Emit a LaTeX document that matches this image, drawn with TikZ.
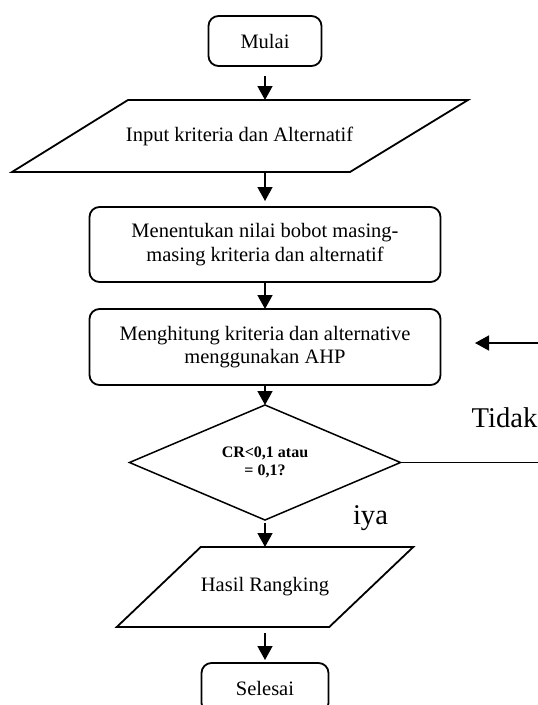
\documentclass[tikz,border=0pt]{standalone}
\usepackage{fontspec}
\setmainfont{Liberation Serif}
\usepackage{tikz}
\usetikzlibrary{arrows.meta,positioning,shapes.geometric}
\newcommand{\boxsz}{\fontsize{20.5}{23.8}\selectfont}
\newcommand{\condsz}{\fontsize{16}{18}\selectfont}
\newcommand{\anssz}{\fontsize{28.6}{32}\selectfont}

\begin{document}
\begin{tikzpicture}[>={Triangle[length=14pt,width=15pt]}, x=1pt, y=1pt]
  \tikzset{
    proc/.style={draw,line width=1.8pt,rounded corners=10pt,outer sep=0pt,
                 minimum width=351pt,minimum height=76pt,align=center,font=\boxsz},
    term/.style={proc,minimum width=113pt,minimum height=50pt},
    io/.style={inner sep=0pt,outer sep=0pt,minimum height=72pt,align=center,font=\boxsz},
    ioline/.style={draw,line width=1.8pt,line join=miter},
    cond/.style={diamond,draw,line width=1.5pt,aspect=2.36,inner sep=0pt,outer sep=0pt,
                 minimum width=271pt,minimum height=115pt,align=center,font=\condsz\bfseries},
    ans/.style={inner sep=0pt,font=\anssz},
    flow/.style={->,line width=1.6pt}
  }
  \path[use as bounding box,clip] (0,0) rectangle (538,-705);

  \node[term] (start) at (265,-41) {Mulai};
  \node[io,minimum width=339pt,below=34pt of start,xshift=-25.5pt] (input) {Input kriteria dan Alternatif};
  \node[proc,minimum height=75pt,below=35pt of input,xshift=25.5pt] (weight)
    {Menentukan nilai bobot masing-\\masing kriteria dan alternatif};
  \node[proc,below=27pt of weight] (calc) {Menghitung kriteria dan alternative\\menggunakan AHP};
  \node[cond,below=20pt of calc] (cond) {CR<0,1 atau\\= 0,1?};
  \node[io,minimum width=212.5pt,minimum height=80pt,below=27pt of cond] (result) {Hasil Rangking};
  \node[term,minimum width=127pt,minimum height=50pt,below=36pt of result] (stop) {Selesai};

  % parallelograms
  \draw[ioline] ([xshift=-58pt]input.south west) -- ([xshift=58pt]input.north west)
    -- ([xshift=59pt]input.north east) -- ([xshift=-59pt]input.south east) -- cycle;
  \draw[ioline] ([xshift=-42pt]result.south west) -- ([xshift=42pt]result.north west)
    -- ([xshift=42pt]result.north east) -- ([xshift=-42pt]result.south east) -- cycle;

  \draw[flow,shorten <=10pt] (start) -- (start |- input.north);
  \draw[flow,shorten >=6pt] (start |- input.south) -- (weight);
  \draw[flow] (weight) -- (calc);
  \draw[flow] (calc) -- (cond);
  \draw[flow,shorten <=3pt] (cond) -- (result);
  \draw[flow,shorten <=6pt,shorten >=3pt] (result) -- (stop);

  % loop back (Tidak)
  \coordinate (back) at (538,-343);
  \coordinate (backtip) at (475,-343);
  \coordinate (edge) at (538,-463);
  \draw[line width=1.5pt] (cond.east) -- (cond.east -| edge);
  \draw[flow] (back) -- (backtip);
  \node[ans,anchor=base] (no) at (504.5,-427) {Tidak};
  \node[ans,anchor=base] (yes) at (370.5,-524) {iya};
\end{tikzpicture}
\end{document}
